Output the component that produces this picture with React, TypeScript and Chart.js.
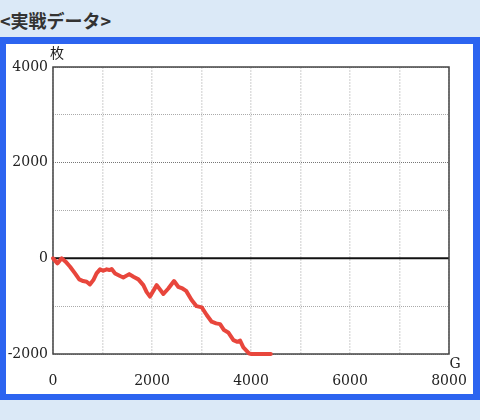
import React, { useEffect, useRef } from 'react';
import { Chart, registerables } from 'chart.js';

Chart.register(...registerables);

// Games played (G)
const games = [0, 90, 175, 255, 345, 445, 530, 610, 680, 745, 815, 880, 950, 1015, 1085, 1140, 1185, 1255, 1355, 1420, 1540, 1625, 1725, 1825, 1890, 1960, 2095, 2230, 2330, 2445, 2530, 2615, 2690, 2800, 2900, 3005, 3105, 3205, 3295, 3375, 3455, 3540, 3645, 3725, 3780, 3845, 3965, 4010, 4400];
// Coin difference (枚)
const coins = [0, -105, 0, -70, -175, -315, -440, -475, -490, -545, -455, -315, -230, -260, -230, -245, -225, -315, -370, -400, -330, -385, -440, -560, -700, -800, -560, -745, -630, -475, -595, -630, -680, -870, -1000, -1025, -1185, -1325, -1360, -1375, -1500, -1550, -1710, -1745, -1720, -1860, -1990, -2000, -2000];

const xLabeledTicks = [0, 2000, 4000, 6000, 8000];
const yLabeledTicks = [-2000, 0, 2000, 4000];

const TITLE = '<実戦データ>';
const Y_UNIT = '枚';
const X_UNIT = 'G';

const framePlugin = {
  id: 'frame',
  beforeDatasetsDraw(chart: any) {
    const { ctx, chartArea: a, scales } = chart;
    const y0 = scales.y.getPixelForValue(0);
    ctx.save();
    ctx.strokeStyle = '#111';
    ctx.lineWidth = 2;
    ctx.beginPath();
    ctx.moveTo(a.left, y0);
    ctx.lineTo(a.right, y0);
    ctx.stroke();
    ctx.strokeStyle = '#444';
    ctx.lineWidth = 1.5;
    ctx.strokeRect(a.left, a.top, a.right - a.left, a.bottom - a.top);
    ctx.fillStyle = '#222';
    ctx.font = '14px "DejaVu Serif", "Noto Sans CJK JP"';
    ctx.textAlign = 'center';
    ctx.textBaseline = 'middle';
    ctx.fillText(Y_UNIT, a.left + 4, a.top - 13);
    ctx.fillText(X_UNIT, a.right + 6, a.bottom + 10);
    ctx.restore();
  },
};

export default function App() {
  const ref = useRef<HTMLCanvasElement>(null);

  useEffect(() => {
    if (!ref.current) return;
    const tickFont = { family: '"DejaVu Serif", serif', size: 14 };
    const chart = new Chart(ref.current, {
      type: 'line',
      data: {
        datasets: [
          {
            data: games.map((g, i) => ({ x: g, y: coins[i] })),
            borderColor: '#e8463c',
            borderWidth: 4,
            pointRadius: 0,
            tension: 0,
            fill: false,
            clip: false as any,
            borderJoinStyle: 'round',
            borderCapStyle: 'round',
          },
        ],
      },
      options: {
        responsive: false,
        animation: false,
        layout: { padding: { left: 0, top: 67, right: 31, bottom: 0 } },
        plugins: { legend: { display: false }, tooltip: { enabled: false } },
        scales: {
          x: {
            type: 'linear',
            min: 0,
            max: 8000,
            afterFit: (s: any) => {
              s.height = 66;
              s.paddingLeft = 0;
              s.paddingRight = 0;
            },
            ticks: {
              stepSize: 1000,
              autoSkip: false,
              maxRotation: 0,
              padding: 19,
              color: '#222',
              font: tickFont,
              callback: (v: any) => (xLabeledTicks.includes(Number(v)) ? String(v) : ''),
            },
            grid: { color: '#dedede', lineWidth: 1.5, drawTicks: false },
            border: { display: false, dash: [2, 1] },
          },
          y: {
            type: 'linear',
            min: -2000,
            max: 4000,
            afterFit: (s: any) => {
              s.width = 53;
              s.paddingTop = 0;
              s.paddingBottom = 0;
            },
            ticks: {
              stepSize: 1000,
              autoSkip: false,
              padding: 5,
              color: '#222',
              font: tickFont,
              callback: (v: any) => (yLabeledTicks.includes(Number(v)) ? String(v) : ''),
            },
            grid: {
              drawTicks: false,
              lineWidth: 1,
              color: (c: any) => (c.tick && c.tick.value === 2000 ? '#777' : '#aaa'),
            },
            border: { display: false, dash: [1, 1] },
          },
        },
      },
      plugins: [framePlugin],
    });
    return () => chart.destroy();
  }, []);

  return (
    <div style={{ position: 'fixed', left: 0, top: 0, width: 480, height: 420, background: '#dbe9f7', overflow: 'hidden' }}>
      <div
        style={{
          position: 'absolute',
          left: 0,
          top: 11,
          fontFamily: '"Noto Sans CJK JP", sans-serif',
          fontWeight: 'bold',
          fontSize: 18,
          lineHeight: '18px',
          color: '#333',
          whiteSpace: 'nowrap',
        }}
      >
        {TITLE}
      </div>
      <div
        style={{
          position: 'absolute',
          left: 0,
          top: 37,
          width: 480,
          height: 363,
          boxSizing: 'border-box',
          border: '6px solid #2c64f0',
          borderRightWidth: 7,
          borderTopWidth: 7,
          background: '#fff',
        }}
      />
      <canvas ref={ref} width={480} height={420} style={{ position: 'absolute', left: 0, top: 0 }} />
    </div>
  );
}
